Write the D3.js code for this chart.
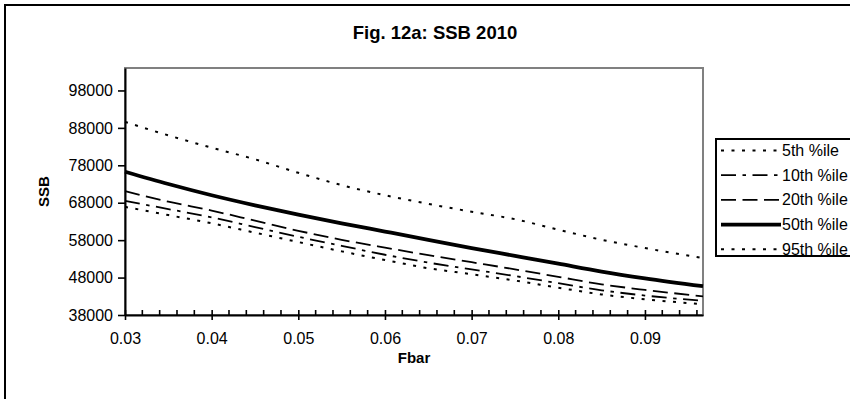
<!DOCTYPE html>
<html>
<head>
<meta charset="utf-8">
<script src="https://cdn.jsdelivr.net/npm/d3@7"></script>
<style>
  html, body { margin: 0; padding: 0; background: #fff; }
  svg { display: block; font-family: "Liberation Sans", Arial, sans-serif; }
</style>
</head>
<body>
<svg id="chart" width="850" height="399"></svg>
<script>
// Fishing mortality (Fbar) values along the x axis
const fbar = [0.030, 0.035, 0.040, 0.045, 0.050, 0.055, 0.060, 0.065, 0.070, 0.075, 0.080, 0.085, 0.090, 0.0967];

// SSB 2010 percentiles for each Fbar
const p5  = [66900, 64700, 62500, 60000, 57500, 55000, 52700, 50500, 48900, 47200, 45300, 43500, 42200, 40900];
const p10 = [68500, 66300, 64100, 61500, 58900, 56500, 54100, 52000, 50200, 48400, 46500, 44600, 43200, 41800];
const p20 = [71100, 68300, 65900, 63200, 60500, 58100, 56000, 54000, 52100, 50200, 48200, 46200, 44700, 43000];
const p50 = [76300, 73000, 70000, 67300, 64800, 62500, 60300, 58100, 55900, 53800, 51700, 49600, 47800, 45700];
const p95 = [89600, 86000, 82700, 79600, 76000, 72700, 70000, 67700, 65600, 63600, 60800, 58100, 55900, 53200];

const seriesNames = ["5th %ile", "10th %ile", "20th %ile", "50th %ile", "95th %ile"];
const seriesValues = [p5, p10, p20, p50, p95];

const xTickLabels = [0.03, 0.04, 0.05, 0.06, 0.07, 0.08, 0.09];
const yTickLabels = [38000, 48000, 58000, 68000, 78000, 88000, 98000];

// Line styles per series
const styles = [
  { dash: "3,7.5", width: 2 },
  { dash: "15,6.5,3.5,6.5", width: 1.8 },
  { dash: "15,6.5", width: 1.8 },
  { dash: null, width: 3.8 },
  { dash: "3,7.5", width: 2 }
];

const svg = d3.select("#chart");

// Outer chart frame
svg.append("rect")
  .attr("x", 5).attr("y", 5).attr("width", 870).attr("height", 420)
  .attr("fill", "#fff").attr("stroke", "#000").attr("stroke-width", 2);

const plot = { left: 125, right: 703, top: 68, bottom: 315 };

const x = d3.scaleLinear().domain([0.03, 0.0967]).range([plot.left, plot.right]);
const y = d3.scaleLinear().domain([38000, 104000]).range([plot.bottom, plot.top]);

// Plot area border (grey)
svg.append("rect")
  .attr("x", plot.left).attr("y", plot.top)
  .attr("width", plot.right - plot.left).attr("height", plot.bottom - plot.top)
  .attr("fill", "none").attr("stroke", "#808080").attr("stroke-width", 2);

// Title
svg.append("text")
  .attr("x", 435).attr("y", 39)
  .attr("text-anchor", "middle")
  .attr("font-size", 18.5).attr("font-weight", "bold")
  .text("Fig. 12a: SSB 2010");

// Series lines
const line = d3.line()
  .curve(d3.curveMonotoneX)
  .x((d, i) => x(fbar[i]))
  .y(d => y(d));

const order = [0, 1, 2, 4, 3];
order.forEach(k => {
  svg.append("path")
    .datum(seriesValues[k])
    .attr("d", line)
    .attr("fill", "none")
    .attr("stroke", "#000")
    .attr("stroke-width", styles[k].width)
    .attr("stroke-dasharray", styles[k].dash)
    .attr("stroke-linejoin", "round");
});

// Y axis
const yAxis = d3.axisLeft(y)
  .tickValues(yTickLabels)
  .tickSize(7)
  .tickSizeOuter(0)
  .tickPadding(5)
  .tickFormat(d3.format("d"));
const gy = svg.append("g").attr("transform", `translate(${plot.left},0)`).call(yAxis);
gy.select(".domain").attr("stroke-width", 2);
gy.selectAll(".tick line").attr("stroke-width", 1.6);
gy.selectAll("text").attr("font-size", 16).attr("font-family", "Liberation Sans, Arial, sans-serif");

// X axis: minor ticks inside, major ticks crossing
const minorTicks = d3.range(0, 34).map(i => +(0.03 + i * 0.002).toFixed(3))
  .filter(v => Math.round(v * 1000) % 10 !== 0);
svg.append("g").selectAll("line").data(minorTicks).join("line")
  .attr("x1", d => x(d)).attr("x2", d => x(d))
  .attr("y1", plot.bottom - 5).attr("y2", plot.bottom)
  .attr("stroke", "#000").attr("stroke-width", 1.6);

const xAxis = d3.axisBottom(x)
  .tickValues(xTickLabels)
  .tickSize(5)
  .tickSizeOuter(0)
  .tickPadding(13)
  .tickFormat(d3.format(".2f"));
const gx = svg.append("g").attr("transform", `translate(0,${plot.bottom})`).call(xAxis);
gx.select(".domain").attr("stroke-width", 2);
gx.selectAll(".tick line").attr("y1", -5).attr("stroke-width", 1.6);
gx.selectAll("text").attr("font-size", 16).attr("font-family", "Liberation Sans, Arial, sans-serif");

// Axis titles
svg.append("text")
  .attr("x", 414).attr("y", 363)
  .attr("text-anchor", "middle")
  .attr("font-size", 15).attr("font-weight", "bold")
  .text("Fbar");
svg.append("text")
  .attr("transform", `translate(49,${(plot.top + plot.bottom) / 2}) rotate(-90)`)
  .attr("text-anchor", "middle")
  .attr("font-size", 15).attr("font-weight", "bold")
  .text("SSB");

// Legend
const legend = svg.append("g");
legend.append("rect")
  .attr("x", 716).attr("y", 139).attr("width", 150).attr("height", 117)
  .attr("fill", "#fff").attr("stroke", "#000").attr("stroke-width", 2);
seriesNames.forEach((name, k) => {
  const ly = 150.5 + k * 24.7;
  legend.append("line")
    .attr("x1", 721).attr("x2", 781).attr("y1", ly).attr("y2", ly)
    .attr("stroke", "#000")
    .attr("stroke-width", styles[k].width)
    .attr("stroke-dasharray", styles[k].dash);
  legend.append("text")
    .attr("x", 782).attr("y", ly + 5.5)
    .attr("font-size", 16)
    .text(name);
});
</script>
</body>
</html>
